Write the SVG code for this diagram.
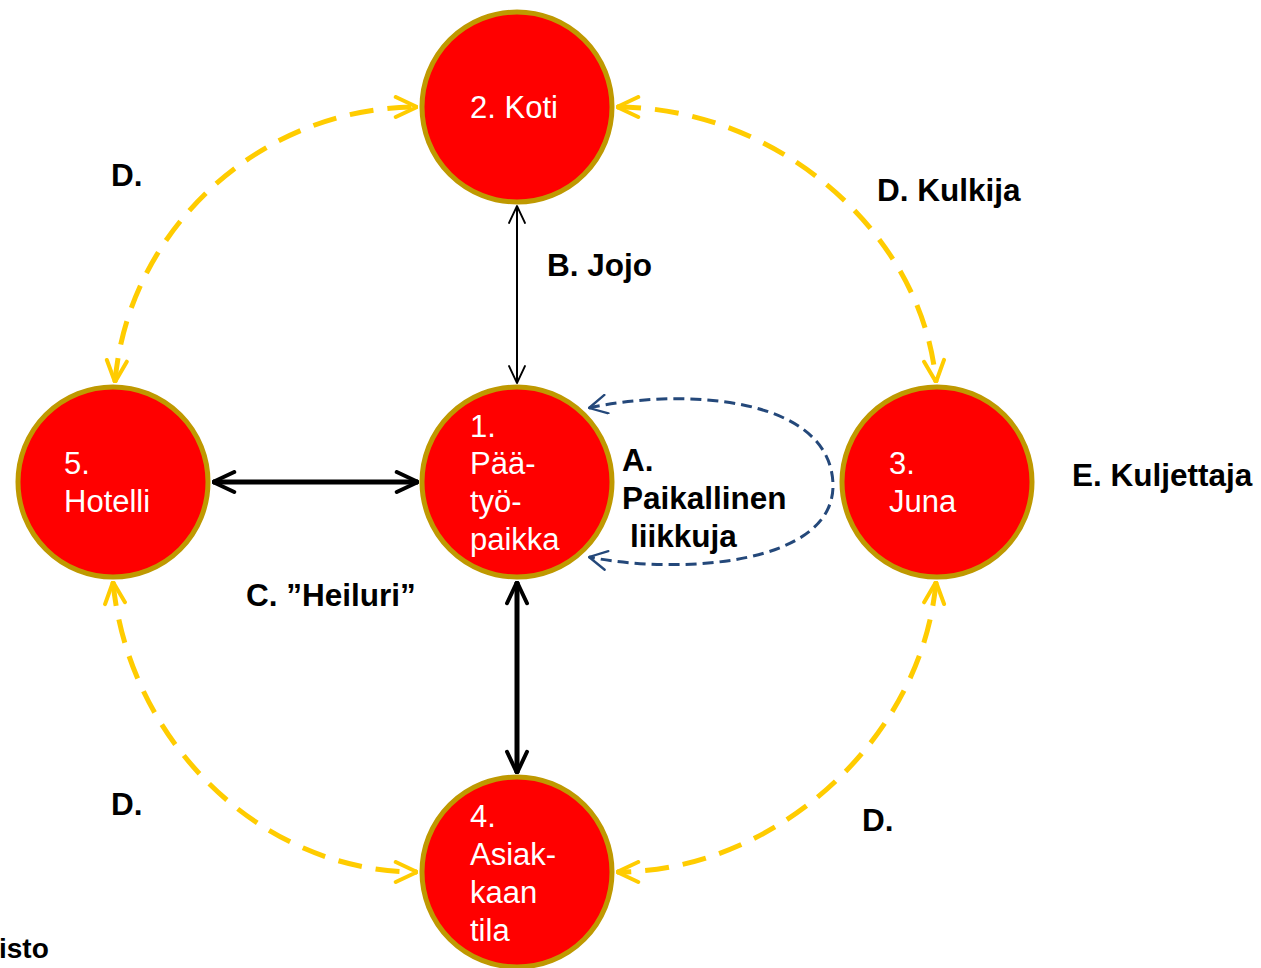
<svg xmlns="http://www.w3.org/2000/svg" width="1261" height="968" viewBox="0 0 1261 968">
<style>
.node{fill:#ff0000;stroke:#bf9900;stroke-width:5}
.nt{font-family:"Liberation Sans",Arial,sans-serif;font-size:31px;fill:#ffffff}
.lb{font-family:"Liberation Sans",Arial,sans-serif;font-size:31.5px;font-weight:bold;fill:#000000}
.yel{fill:none;stroke:#ffcc00;stroke-width:5;stroke-dasharray:24 14}
.blue{fill:none;stroke:#24487a;stroke-width:3;stroke-dasharray:11 6}
</style>
<defs>
<marker id="ya" viewBox="0 0 10 10" refX="9.5" refY="5" markerWidth="5" markerHeight="5" markerUnits="strokeWidth" orient="auto-start-reverse">
<path d="M1,1 L9.5,5 L1,9" fill="none" stroke="#ffcc00" stroke-width="1.6" stroke-linecap="round" stroke-linejoin="round"/>
</marker>
<marker id="ba" viewBox="0 0 10 10" refX="9.5" refY="5" markerWidth="5" markerHeight="5" markerUnits="strokeWidth" orient="auto-start-reverse">
<path d="M1,1 L9.5,5 L1,9" fill="none" stroke="#000000" stroke-width="1.6" stroke-linecap="round" stroke-linejoin="round"/>
</marker>
<marker id="bt" viewBox="0 0 10 10" refX="9.5" refY="5" markerWidth="10" markerHeight="10" markerUnits="strokeWidth" orient="auto-start-reverse">
<path d="M1,1 L9.5,5 L1,9" fill="none" stroke="#000000" stroke-width="0.9" stroke-linecap="round" stroke-linejoin="round"/>
</marker>
<marker id="bl" viewBox="0 0 10 10" refX="9.5" refY="5" markerWidth="7" markerHeight="7" markerUnits="strokeWidth" orient="auto-start-reverse">
<path d="M1,0.5 L9.5,5 L1,9.5" fill="none" stroke="#24487a" stroke-width="1.1" stroke-linecap="round" stroke-linejoin="round"/>
</marker>
</defs>
<g id="connectors">
<path class="yel" d="M115,382 C128,230 260,107 417,107" marker-start="url(#ya)" marker-end="url(#ya)"/>
<path class="yel" d="M617,107 C774,107 922,230 936,382" marker-start="url(#ya)" marker-end="url(#ya)"/>
<path class="yel" d="M113,582 C128,740 260,872 417,872" marker-start="url(#ya)" marker-end="url(#ya)"/>
<path class="yel" d="M936,582 C922,740 774,872 617,872" marker-start="url(#ya)" marker-end="url(#ya)"/>
<line x1="517" y1="206" x2="517" y2="383" stroke="#000" stroke-width="2" marker-start="url(#bt)" marker-end="url(#bt)"/>
<line x1="213" y1="482" x2="418" y2="482" stroke="#000" stroke-width="5" marker-start="url(#ba)" marker-end="url(#ba)"/>
<line x1="517" y1="582" x2="517" y2="773" stroke="#000" stroke-width="5" marker-start="url(#ba)" marker-end="url(#ba)"/>
<path class="blue" d="M589,408 C680,388 830,395 833,484 C835,565 680,575 589,557" marker-start="url(#bl)" marker-end="url(#bl)"/>
</g>
<g id="node2"><circle class="node" cx="517" cy="107" r="95"/><text class="nt" x="470" y="118">2. Koti</text></g>
<g id="node1"><circle class="node" cx="517" cy="482" r="95"/><text class="nt" x="470"><tspan x="470" y="437">1.</tspan><tspan x="470" y="474">Pää-</tspan><tspan x="470" y="512">työ-</tspan><tspan x="470" y="550">paikka</tspan></text></g>
<g id="node5"><circle class="node" cx="113" cy="482" r="95"/><text class="nt"><tspan x="64" y="474">5.</tspan><tspan x="64" y="512">Hotelli</tspan></text></g>
<g id="node3"><circle class="node" cx="937" cy="482" r="95"/><text class="nt"><tspan x="889" y="474">3.</tspan><tspan x="889" y="512">Juna</tspan></text></g>
<g id="node4"><circle class="node" cx="517" cy="872" r="95"/><text class="nt"><tspan x="470" y="827">4.</tspan><tspan x="470" y="865">Asiak-</tspan><tspan x="470" y="903">kaan</tspan><tspan x="470" y="941">tila</tspan></text></g>
<g id="labels">
<text class="lb" x="111" y="186">D.</text>
<text class="lb" x="877" y="201">D. Kulkija</text>
<text class="lb" x="547" y="276">B. Jojo</text>
<text class="lb" x="622" y="471">A.</text>
<text class="lb" x="622" y="509">Paikallinen</text>
<text class="lb" x="630" y="547">liikkuja</text>
<text class="lb" x="1072" y="486">E. Kuljettaja</text>
<text class="lb" x="246" y="606">C. ”Heiluri”</text>
<text class="lb" x="111" y="815">D.</text>
<text class="lb" x="862" y="831">D.</text>
<text class="lb" x="-1" y="958" style="font-size:28px">isto</text>
</g>
</svg>
